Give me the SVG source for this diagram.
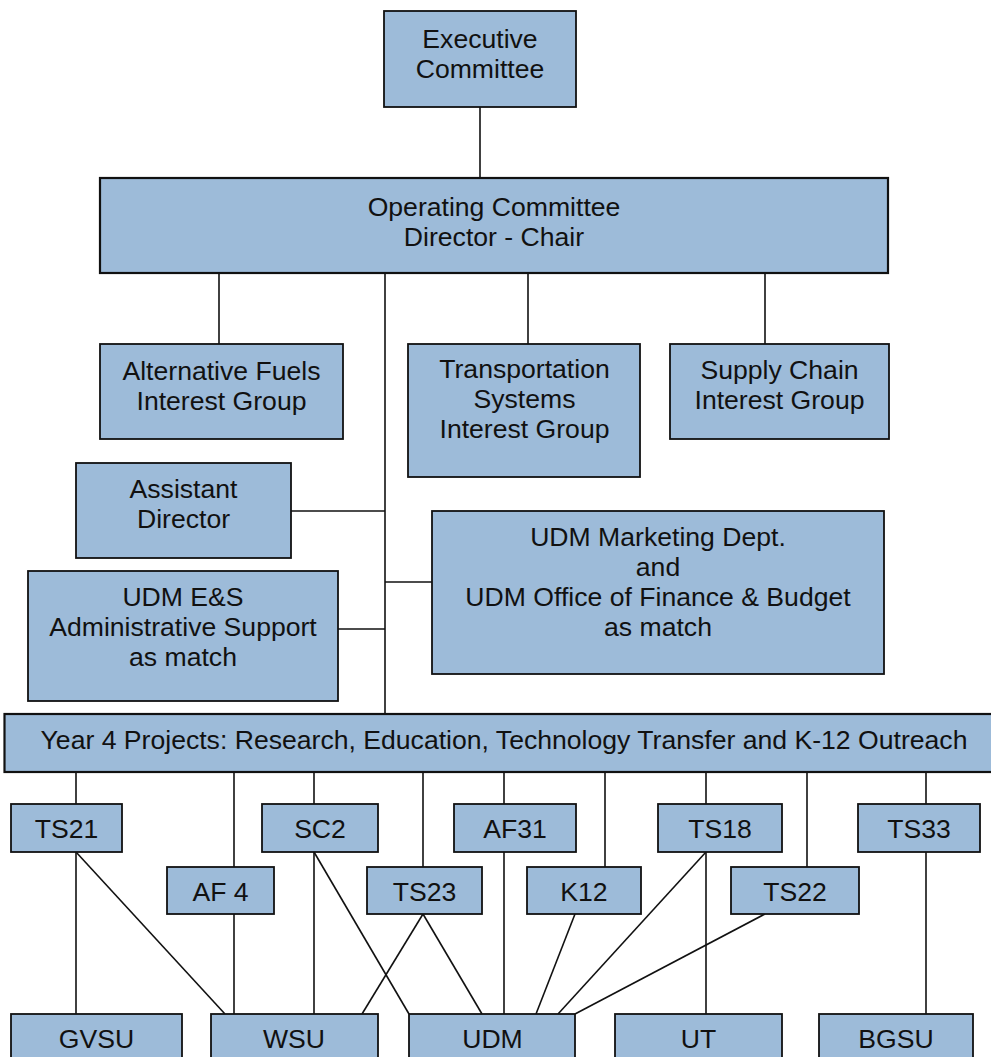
<svg xmlns="http://www.w3.org/2000/svg" width="991" height="1057" viewBox="0 0 991 1057">
<style>
.box{fill:#9dbbd9;stroke:#111;stroke-width:1.8}
.bold{stroke-width:2.2}
.t{font-family:"Liberation Sans",Arial,sans-serif;font-size:26.6px;fill:#111;text-anchor:middle}
.c line{stroke:#111;stroke-width:1.6}
</style>
<rect width="991" height="1057" fill="#fff"/>
<g class="c" id="connectors">
<line x1="480" y1="107" x2="480" y2="178"/>
<line x1="219" y1="273" x2="219" y2="344"/>
<line x1="528" y1="273" x2="528" y2="344"/>
<line x1="765" y1="273" x2="765" y2="344"/>
<line x1="385" y1="273" x2="385" y2="714"/>
<line x1="291" y1="511" x2="385" y2="511"/>
<line x1="338" y1="629" x2="385" y2="629"/>
<line x1="385" y1="582" x2="432" y2="582"/>
<line x1="76" y1="772" x2="76" y2="804"/>
<line x1="234" y1="772" x2="234" y2="867"/>
<line x1="314" y1="772" x2="314" y2="804"/>
<line x1="423" y1="772" x2="423" y2="867"/>
<line x1="504" y1="772" x2="504" y2="804"/>
<line x1="605" y1="772" x2="605" y2="867"/>
<line x1="706" y1="772" x2="706" y2="804"/>
<line x1="807" y1="772" x2="807" y2="867"/>
<line x1="926" y1="772" x2="926" y2="804"/>
<line x1="76" y1="852" x2="76" y2="1014"/>
<line x1="76" y1="852" x2="225" y2="1014"/>
<line x1="234" y1="914" x2="234" y2="1014"/>
<line x1="314" y1="852" x2="314" y2="1014"/>
<line x1="314" y1="852" x2="409" y2="1014"/>
<line x1="423" y1="914" x2="362" y2="1014"/>
<line x1="423" y1="914" x2="482" y2="1014"/>
<line x1="504" y1="852" x2="504" y2="1014"/>
<line x1="575" y1="914" x2="536" y2="1014"/>
<line x1="706" y1="852" x2="558" y2="1014"/>
<line x1="706" y1="852" x2="706" y2="1014"/>
<line x1="765" y1="914" x2="575" y2="1014"/>
<line x1="926" y1="852" x2="926" y2="1014"/>
</g>
<g id="executive"><rect class="box" x="384" y="11" width="192" height="96"/><text class="t" x="480" y="48">Executive</text><text class="t" x="480" y="78">Committee</text></g>
<g id="operating"><rect class="box bold" x="100" y="178" width="788" height="95"/><text class="t" x="494" y="216">Operating Committee</text><text class="t" x="494" y="246">Director - Chair</text></g>
<g id="altfuels"><rect class="box" x="100" y="344" width="243" height="95"/><text class="t" x="221.5" y="380">Alternative Fuels</text><text class="t" x="221.5" y="410">Interest Group</text></g>
<g id="transport"><rect class="box" x="408" y="344" width="232" height="133"/><text class="t" x="524.5" y="378">Transportation</text><text class="t" x="524.5" y="408">Systems</text><text class="t" x="524.5" y="438">Interest Group</text></g>
<g id="supply"><rect class="box" x="670" y="344" width="219" height="95"/><text class="t" x="779.5" y="379">Supply Chain</text><text class="t" x="779.5" y="409">Interest Group</text></g>
<g id="assistant"><rect class="box" x="76" y="463" width="215" height="95"/><text class="t" x="183.5" y="498">Assistant</text><text class="t" x="183.5" y="528">Director</text></g>
<g id="udmes"><rect class="box" x="28" y="571" width="310" height="130"/><text class="t" x="183" y="606">UDM E&amp;S</text><text class="t" x="183" y="636">Administrative Support</text><text class="t" x="183" y="666">as match</text></g>
<g id="marketing"><rect class="box" x="432" y="511" width="452" height="163"/><text class="t" x="658" y="546">UDM Marketing Dept.</text><text class="t" x="658" y="576">and</text><text class="t" x="658" y="606">UDM Office of Finance &amp; Budget</text><text class="t" x="658" y="636">as match</text></g>
<g id="year4"><rect class="box bold" x="4.5" y="714" width="1000" height="58"/><text class="t" x="504" y="749">Year 4 Projects: Research, Education, Technology Transfer and K-12 Outreach</text></g>
<g id="ts21"><rect class="box" x="11" y="804" width="111" height="48"/><text class="t" x="66.5" y="838">TS21</text></g>
<g id="sc2"><rect class="box" x="262" y="804" width="116" height="48"/><text class="t" x="320" y="838">SC2</text></g>
<g id="af31"><rect class="box" x="454" y="804" width="122" height="48"/><text class="t" x="515" y="838">AF31</text></g>
<g id="ts18"><rect class="box" x="658" y="804" width="124" height="48"/><text class="t" x="720" y="838">TS18</text></g>
<g id="ts33"><rect class="box" x="858" y="804" width="122" height="48"/><text class="t" x="919" y="838">TS33</text></g>
<g id="af4"><rect class="box" x="167" y="867" width="107" height="47"/><text class="t" x="220.5" y="901">AF 4</text></g>
<g id="ts23"><rect class="box" x="367" y="867" width="115" height="47"/><text class="t" x="424.5" y="901">TS23</text></g>
<g id="k12"><rect class="box" x="527" y="867" width="114" height="47"/><text class="t" x="584" y="901">K12</text></g>
<g id="ts22"><rect class="box" x="731" y="867" width="128" height="47"/><text class="t" x="795" y="901">TS22</text></g>
<g id="gvsu"><rect class="box" x="11" y="1014" width="171" height="60"/><text class="t" x="96.5" y="1048">GVSU</text></g>
<g id="wsu"><rect class="box" x="211" y="1014" width="167" height="60"/><text class="t" x="294" y="1048">WSU</text></g>
<g id="udm"><rect class="box" x="409" y="1014" width="166" height="60"/><text class="t" x="492.5" y="1048">UDM</text></g>
<g id="ut"><rect class="box" x="615" y="1014" width="167" height="60"/><text class="t" x="698.5" y="1048">UT</text></g>
<g id="bgsu"><rect class="box" x="819" y="1014" width="154" height="60"/><text class="t" x="896" y="1048">BGSU</text></g>
</svg>
